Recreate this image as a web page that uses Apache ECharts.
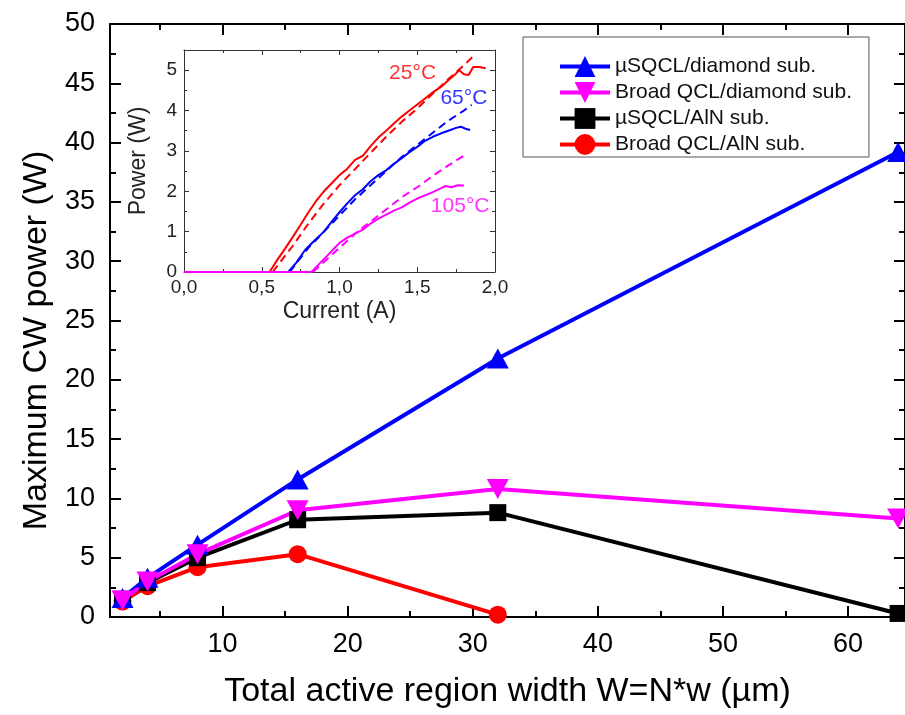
<!DOCTYPE html>
<html lang="en">
<head>
<meta charset="UTF-8">
<title>Maximum CW power</title>
<style>html, body { margin: 0; padding: 0; background: #fff; }</style>
</head>
<body>
<div id="main" style="width:905px;height:715px;"></div>
<script src="https://cdn.jsdelivr.net/npm/echarts@6.0.0/dist/echarts.min.js"></script>
<script>
// main plot: max CW power vs total active region width
const widths = [2, 4, 8, 16, 32, 64];
const sqclDiamond = [1.6, 3.3, 6.1, 11.6, 21.8, 39.2];
const broadDiamond = [1.4, 3.0, 5.3, 9.0, 10.8, 8.3];
const sqclAln = [1.5, 2.9, 5.0, 8.2, 8.8, 0.3];
const broadAln = [1.3, 2.6, 4.2, 5.3, 0.2, null];
const xMajor = [10, 20, 30, 40, 50, 60];
const xMinor = [5, 15, 25, 35, 45, 55];

// inset: L-I curves (solid = measured, dashed = fit)
const red25 = [[0, 0], [0.55, 0], [0.6, 0.3], [0.65, 0.58], [0.7, 0.87], [0.75, 1.17], [0.8, 1.48], [0.85, 1.76], [0.9, 2.0], [0.95, 2.2], [1.0, 2.4], [1.05, 2.56], [1.1, 2.78], [1.15, 2.88], [1.2, 3.12], [1.25, 3.33], [1.3, 3.5], [1.35, 3.68], [1.4, 3.85], [1.45, 4.0], [1.5, 4.15], [1.55, 4.3], [1.6, 4.45], [1.65, 4.58], [1.7, 4.75], [1.75, 4.92], [1.77, 5.0], [1.8, 4.9], [1.83, 4.88], [1.86, 5.08], [1.9, 5.08], [1.94, 5.05]];
const red25Fit = [[0.57, 0], [0.7, 0.65], [0.8, 1.2], [0.9, 1.7], [1.0, 2.15], [1.1, 2.55], [1.2, 2.95], [1.3, 3.35], [1.4, 3.72], [1.5, 4.05], [1.6, 4.42], [1.7, 4.78], [1.8, 5.12], [1.87, 5.38]];
const blue65 = [[0, 0], [0.67, 0], [0.72, 0.22], [0.78, 0.55], [0.84, 0.78], [0.9, 1.0], [0.95, 1.25], [1.0, 1.48], [1.05, 1.7], [1.1, 1.9], [1.15, 2.05], [1.2, 2.25], [1.25, 2.4], [1.3, 2.52], [1.35, 2.68], [1.4, 2.82], [1.45, 2.97], [1.5, 3.1], [1.55, 3.25], [1.6, 3.35], [1.65, 3.43], [1.7, 3.5], [1.75, 3.57], [1.78, 3.6], [1.81, 3.55], [1.84, 3.52]];
const blue65Fit = [[0.68, 0], [0.8, 0.6], [0.9, 1.0], [1.0, 1.4], [1.1, 1.8], [1.2, 2.15], [1.3, 2.5], [1.4, 2.85], [1.5, 3.15], [1.6, 3.45], [1.7, 3.75], [1.8, 4.0], [1.85, 4.14]];
const mag105 = [[0, 0], [0.82, 0], [0.87, 0.2], [0.92, 0.4], [0.97, 0.6], [1.0, 0.72], [1.05, 0.85], [1.1, 0.95], [1.15, 1.05], [1.2, 1.2], [1.25, 1.32], [1.3, 1.42], [1.35, 1.52], [1.4, 1.6], [1.45, 1.72], [1.5, 1.82], [1.55, 1.9], [1.6, 1.98], [1.65, 2.07], [1.68, 2.13], [1.72, 2.1], [1.76, 2.15], [1.8, 2.14]];
const mag105Fit = [[0.83, 0], [1.0, 0.6], [1.1, 0.95], [1.2, 1.25], [1.3, 1.55], [1.4, 1.85], [1.5, 2.1], [1.6, 2.38], [1.7, 2.64], [1.82, 2.93]];
const tempLabels = [
  { text: '25°C', x: 1.47, y: 4.93, color: '#ff0000' },
  { text: '65°C', x: 1.8, y: 4.31, color: '#0000ff' },
  { text: '105°C', x: 1.776, y: 1.62, color: '#ff00ff' }
];

const font = 'Liberation Sans, Arial, sans-serif';
const BLUE = '#0000ff', MAGENTA = '#ff00ff', RED = '#ff0000', BLACK = '#000000';

function pairs(arr) {
  const out = [];
  arr.forEach((v, i) => { if (v !== null) out.push([widths[i], v]); });
  return out;
}

var chart = echarts.init(document.getElementById('main'));

// main frame axes
const X_MIN = 1, X_MAX = 64.55;
function xFrame(pos, values, len, withLine) {
  return {
    gridIndex: 0, type: 'value', position: pos, min: X_MIN, max: X_MAX,
    axisLine: { show: withLine, onZero: false, lineStyle: { color: '#000', width: 2 } },
    axisTick: { inside: true, length: len, customValues: values, lineStyle: { color: '#000', width: 2 } },
    axisLabel: { show: false },
    splitLine: { show: false }
  };
}
const xBottom = xFrame('bottom', xMajor, 11, true);
xBottom.axisLabel = { show: true, customValues: xMajor, fontSize: 27, color: '#000', margin: 14, fontFamily: font };
xBottom.name = 'Total active region width W=N*w (µm)';
xBottom.nameLocation = 'middle';
xBottom.nameGap = 58;
xBottom.nameTextStyle = { fontSize: 34, color: '#000', fontFamily: font };

function yFrame(pos) {
  return {
    gridIndex: 0, type: 'value', position: pos, min: 0, max: 50, interval: 5,
    axisLine: { show: true, onZero: false, lineStyle: { color: '#000', width: 2 } },
    axisTick: { inside: true, length: 11, lineStyle: { color: '#000', width: 2 } },
    minorTick: { show: true, splitNumber: 2, length: 6, lineStyle: { color: '#000', width: 2 } },
    axisLabel: { show: pos === 'left', fontSize: 27, color: '#000', margin: 15, fontFamily: font },
    splitLine: { show: false },
    minorSplitLine: { show: false }
  };
}
const yLeft = yFrame('left');
yLeft.name = 'Maximum CW power (W)';
yLeft.nameLocation = 'middle';
yLeft.nameRotate = 90;
yLeft.nameGap = 55;
yLeft.nameTextStyle = { fontSize: 34, color: '#000', fontFamily: font, padding: [0, 40, 0, 0] };

// inset axes
function insetX(pos) {
  return {
    gridIndex: 1, type: 'value', position: pos, min: 0, max: 2, interval: 0.5,
    axisLine: { show: true, onZero: false, lineStyle: { color: '#333', width: 1 } },
    axisTick: { inside: true, length: 5, lineStyle: { color: '#333' } },
    minorTick: { show: true, splitNumber: 2, length: 3, lineStyle: { color: '#333' } },
    axisLabel: {
      show: pos === 'bottom', fontSize: 19, color: '#222', margin: 6, fontFamily: font,
      formatter: v => v.toFixed(1).replace('.', ',')
    },
    splitLine: { show: false },
    minorSplitLine: { show: false }
  };
}
function insetY(pos) {
  return {
    gridIndex: 1, type: 'value', position: pos, min: 0, max: 5.5, interval: 1,
    axisLine: { show: true, onZero: false, lineStyle: { color: '#333', width: 1 } },
    axisTick: { inside: true, length: 5, lineStyle: { color: '#333' } },
    minorTick: { show: true, splitNumber: 2, length: 3, lineStyle: { color: '#333' } },
    axisLabel: { show: pos === 'left', showMaxLabel: false, fontSize: 19, color: '#222', margin: 7, fontFamily: font },
    splitLine: { show: false },
    minorSplitLine: { show: false }
  };
}
const ixBottom = insetX('bottom');
ixBottom.name = 'Current (A)';
ixBottom.nameLocation = 'middle';
ixBottom.nameGap = 28;
ixBottom.nameTextStyle = { fontSize: 23, color: '#222', fontFamily: font };
const iyLeft = insetY('left');
iyLeft.name = 'Power (W)';
iyLeft.nameLocation = 'middle';
iyLeft.nameRotate = 90;
iyLeft.nameGap = 34;
iyLeft.nameTextStyle = { fontSize: 23, color: '#222', fontFamily: font };

function mainSeries(name, arr, color, symbol, size, rotate) {
  return {
    name: name, type: 'line', xAxisIndex: 0, yAxisIndex: 0,
    data: pairs(arr), symbol: symbol, symbolSize: size, symbolRotate: rotate || 0,
    showAllSymbol: true,
    lineStyle: { color: color, width: 4 },
    itemStyle: { color: color },
    emphasis: { disabled: true }
  };
}
function insetSeries(data, color, dashed) {
  return {
    type: 'line', xAxisIndex: 4, yAxisIndex: 2, data: data, symbol: 'none',
    lineStyle: { color: color, width: 2, type: dashed ? [8, 5] : 'solid' },
    emphasis: { disabled: true }, silent: true
  };
}

const option = {
  animation: false,
  backgroundColor: '#fff',
  textStyle: { fontFamily: font },
  grid: [
    { left: 110, top: 24, width: 797, height: 593 },
    { left: 184, top: 50, width: 311, height: 222, show: true, backgroundColor: '#fff', borderWidth: 0 }
  ],
  legend: {
    data: ['µSQCL/diamond sub.', 'Broad QCL/diamond sub.', 'µSQCL/AlN sub.', 'Broad QCL/AlN sub.'],
    orient: 'vertical', left: 523, top: 37,
    padding: [19, 17, 2, 35],
    itemWidth: 50, itemHeight: 26, itemGap: 5,
    lineStyle: { width: 4 },
    borderColor: '#555', borderWidth: 1, backgroundColor: '#fff',
    textStyle: { fontSize: 21, color: '#111', fontFamily: font },
    selectedMode: false
  },
  xAxis: [xBottom, xFrame('bottom', xMinor, 6, false), xFrame('top', xMajor, 11, true), xFrame('top', xMinor, 6, false),
    ixBottom, insetX('top')],
  yAxis: [yLeft, yFrame('right'), iyLeft, insetY('right')],
  series: [
    mainSeries('Broad QCL/AlN sub.', broadAln, RED, 'circle', 18),
    mainSeries('µSQCL/AlN sub.', sqclAln, BLACK, 'rect', 17),
    mainSeries('µSQCL/diamond sub.', sqclDiamond, BLUE, 'triangle', [22, 20]),
    mainSeries('Broad QCL/diamond sub.', broadDiamond, MAGENTA, 'triangle', [22, 20], 180),
    insetSeries(red25Fit, RED, true),
    insetSeries(blue65Fit, BLUE, true),
    insetSeries(mag105Fit, MAGENTA, true),
    insetSeries(red25, RED, false),
    insetSeries(blue65, BLUE, false),
    insetSeries(mag105, MAGENTA, false),
    {
      type: 'scatter', xAxisIndex: 4, yAxisIndex: 2, symbolSize: 1, silent: true,
      itemStyle: { color: 'rgba(0,0,0,0)' },
      data: tempLabels.map(t => ({
        value: [t.x, t.y],
        label: { show: true, position: 'inside', formatter: t.text, color: t.color, fontSize: 21, fontFamily: font }
      }))
    }
  ]
};

chart.setOption(option);
</script>
</body>
</html>
